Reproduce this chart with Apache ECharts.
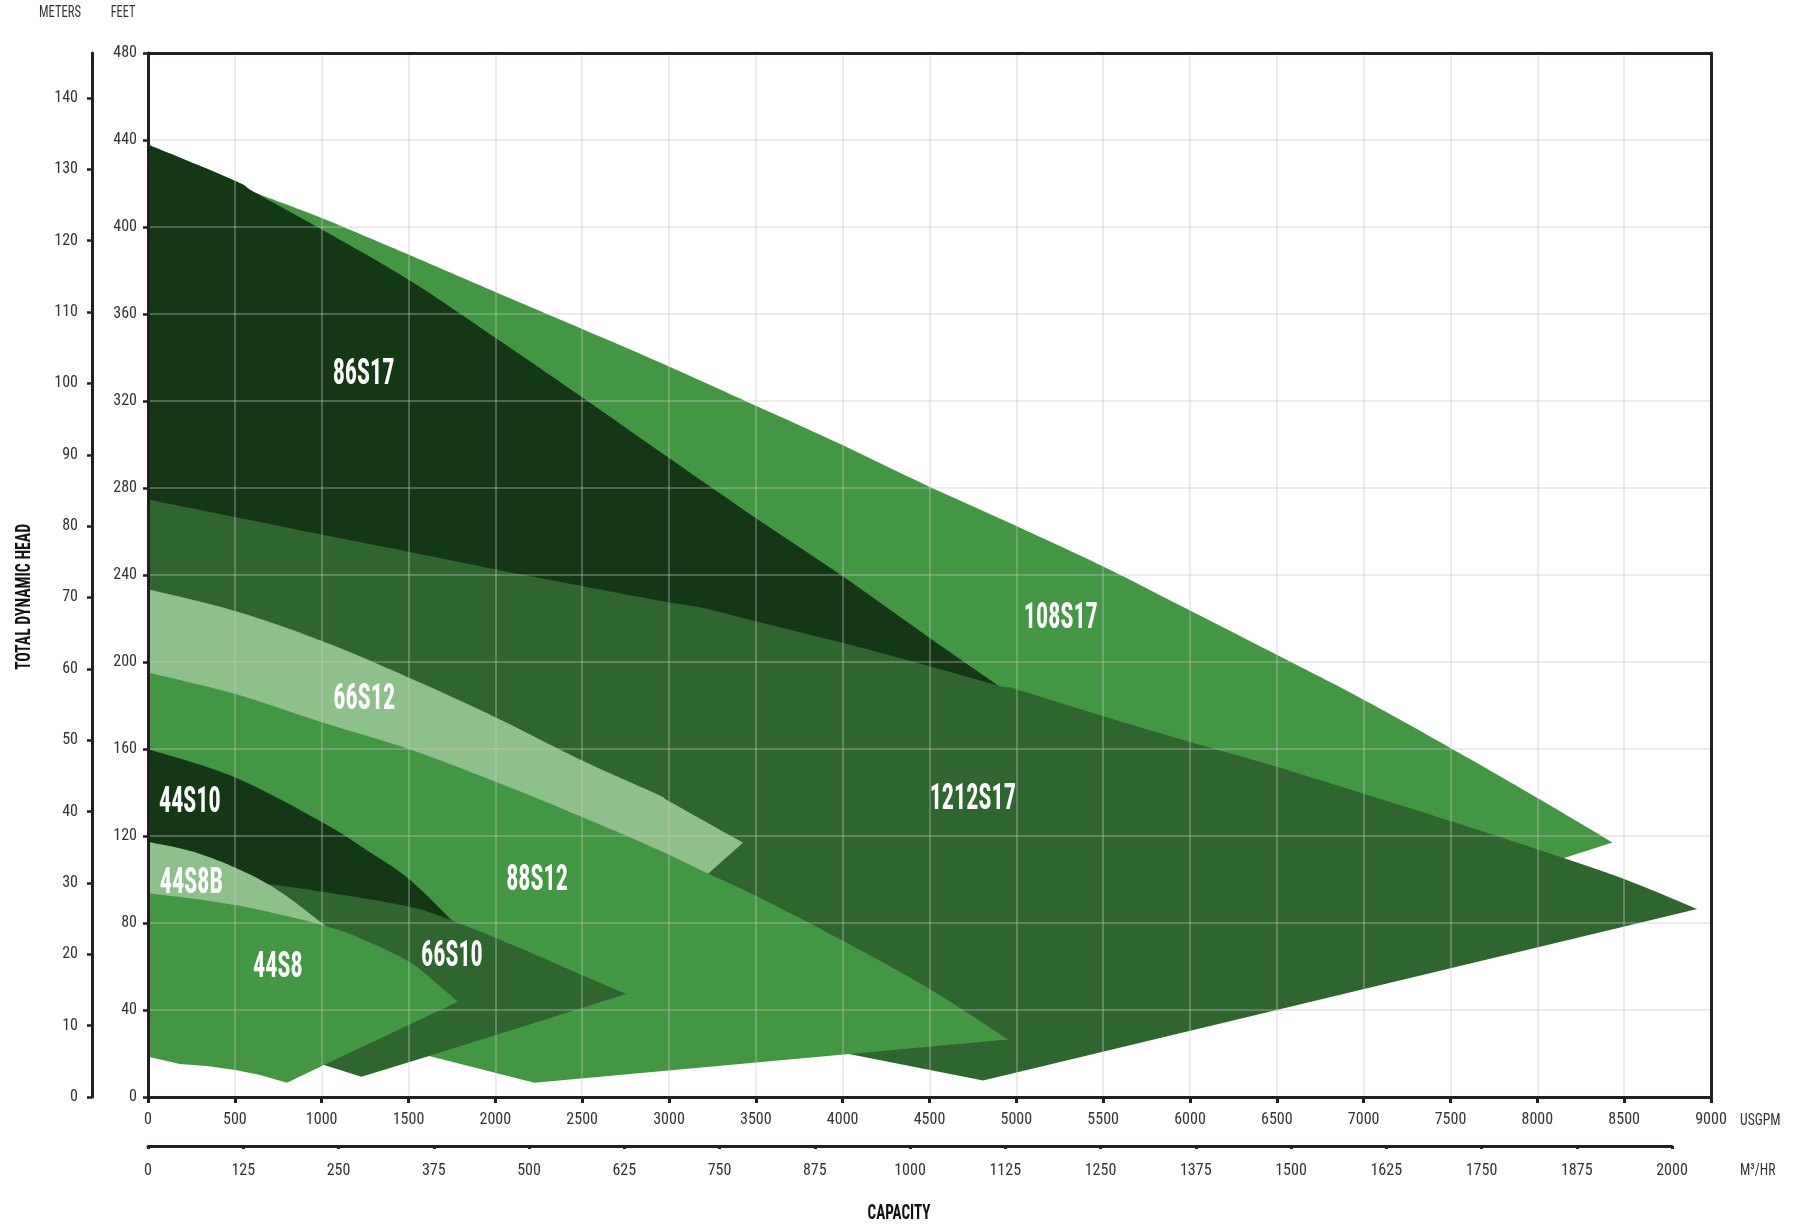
<!DOCTYPE html>
<html>
<head>
<meta charset="utf-8">
<script src="https://cdn.jsdelivr.net/npm/echarts@6/dist/echarts.min.js"></script>
<style>html,body{margin:0;padding:0;background:#fff}#c{width:1801px;height:1228px}</style>
</head>
<body>
<div id="c"></div>
<script>
// ---------- data (USGPM, feet) ----------
const pumpNames = ['108S17', '86S17', '1212S17', '66S12', '88S12', '44S10', '66S10', '44S8B', '44S8'];

const outline108S17 = [[0,437.9],[500,421.3],[612,416],[1001,404.1],[1500,387.3],[2001,370.1],[2500,353.1],[2945,337.8],[3503,317.7],[4002,299.6],[4502,280.5],[5001,262.5],[5500,243.9],[5938,226.2],[6500,203.3],[6999,182.7],[7499,160.5],[7998,137.6],[8433,117],[8150,109.8],[5000,175],[0,265]];
const outline86S17 = [[0,437.9],[500,421.3],[612,416],[1001,398.8],[1500,375.8],[2001,349],[2500,321.7],[2946,296.8],[3503,266],[4002,239.3],[4502,211],[4895,189.2],[5000,180],[0,255]];
const outline1212S17 = [[0,274.7],[500,266.7],[1001,258.6],[1500,250.7],[2000,242.6],[2500,234.9],[2945,228.2],[3196,224.8],[3503,218.6],[4002,208.7],[4502,198],[4895,189.2],[5001,187.4],[5500,175.1],[5938,164.7],[6500,151.8],[6999,139.4],[7499,126.9],[7998,113.9],[8500,100.2],[8921,86.4],[4809,7.6],[4021,20],[0,83]];
const outline66S12 = [[0,233.4],[500,223.5],[1001,209.7],[1500,192.9],[2000,174.6],[2500,154.7],[2945,138.7],[3000,136],[3426,116.9],[3225,102.7],[2500,120],[1500,150],[0,185]];
const outline88S12 = [[0,195.2],[500,185.3],[1001,172.3],[1500,160],[2000,145],[2500,128.7],[2945,113.4],[3225,102.7],[3503,92.4],[4002,71.8],[4502,49.6],[4953,26.4],[2225,6.6],[1619,18.9],[1300,20],[1000,25],[0,40]];
const outline44S10 = [[0,160],[500,147],[1001,126.4],[1250,114],[1500,100.4],[1751,81.1],[1500,86],[1000,91],[500,96],[0,100]];
const outline66S10 = [[0,103],[539,99.3],[1002,94.4],[1504,87.5],[1751,81.1],[2000,73.2],[2258,64.5],[2500,56],[2753,47.4],[1619,18.9],[1229,9.3],[1013,14.7],[0,60]];
const outline44S8B = [[0,117.3],[250,113],[500,105.5],[750,95],[1040,77.5],[800,82],[500,87],[0,92]];
const outline44S8 = [[0,93.7],[500,88.3],[1002,79.1],[1250,72],[1504,62.2],[1650,53],[1784,43.8],[1013,14.7],[800,6.6],[646,10.1],[503,12.4],[337,14.3],[184,15.2],[0,18.5]];

const outlines = [outline108S17, outline86S17, outline1212S17, outline66S12, outline88S12, outline44S10, outline66S10, outline44S8B, outline44S8];
// index of the right-hand tip of each outline (upper edge runs 0..tip)
const tipIndex = [18, 11, 20, 8, 11, 5, 8, 4, 6];

// label anchor values (USGPM, feet)
const labelGpm  = [5256, 1241, 4749, 1245, 2240, 241, 1750, 250, 748];
const labelFeet = [220, 332, 136.6, 182.3, 99.2, 135, 64.5, 98, 59.2];

// tick values
const gpmTicks = [0,500,1000,1500,2000,2500,3000,3500,4000,4500,5000,5500,6000,6500,7000,7500,8000,8500,9000];
const feetTicks = [0,40,80,120,160,200,240,280,320,360,400,440,480];
const meterTicks = [0,10,20,30,40,50,60,70,80,90,100,110,120,130,140];
const m3Ticks = [0,125,250,375,500,625,750,875,1000,1125,1250,1375,1500,1625,1750,1875,2000];

// ---------- styles ----------
const FONT = "'Liberation Sans Narrow','Roboto Condensed','DejaVu Sans Condensed','Liberation Sans',sans-serif";
const DARK = '#143816', MID = '#2f6630', GREEN = '#439642', LIGHT = '#8dc08b';
const pumpColors = [GREEN, DARK, MID, LIGHT, GREEN, DARK, MID, LIGHT, GREEN];
const AX = '#231f20', TXT = '#333333';
const GRIDC = 'rgba(200,200,200,0.45)';

// smooth the upper edge (Catmull-Rom -> cubic Bezier, sampled), straight elsewhere
function smoothOutline(px, tip) {
  const out = [];
  const n = px.length;
  for (let i = 0; i < n; i++) {
    const a = px[i], b = px[(i + 1) % n];
    out.push(a);
    if (i < tip) {
      const prev = i > 0 ? px[i - 1] : a;
      const next = (i + 1 < tip) ? px[i + 2] : b;
      const c1 = [a[0] + (b[0] - prev[0]) / 6, a[1] + (b[1] - prev[1]) / 6];
      const c2 = [b[0] - (next[0] - a[0]) / 6, b[1] - (next[1] - a[1]) / 6];
      for (let k = 1; k < 12; k++) {
        const t = k / 12, u = 1 - t;
        out.push([
          u*u*u*a[0] + 3*u*u*t*c1[0] + 3*u*t*t*c2[0] + t*t*t*b[0],
          u*u*u*a[1] + 3*u*u*t*c1[1] + 3*u*t*t*c2[1] + t*t*t*b[1]
        ]);
      }
    }
  }
  return out;
}

const series = outlines.map((pts, i) => ({
  type: 'custom', name: pumpNames[i], xAxisIndex: 0, yAxisIndex: 0,
  z: 2 + i, silent: true, animation: false,
  data: pts, encode: { x: 0, y: 1 },
  renderItem: function (params, api) {
    if (params.dataIndex !== 0) return null;
    const px = pts.map(p => api.coord(p));
    return { type: 'polygon', shape: { points: smoothOutline(px, tipIndex[i]) }, style: { fill: pumpColors[i] } };
  }
}));

series.push({
  type: 'custom', name: 'labels', xAxisIndex: 0, yAxisIndex: 0, z: 40, silent: true, animation: false,
  data: labelGpm.map((g, i) => [g, labelFeet[i]]), encode: { x: 0, y: 1 },
  renderItem: function (params, api) {
    const p = api.coord([api.value(0), api.value(1)]);
    return { type: 'text', x: p[0], y: p[1], scaleX: 0.67,
      style: { text: pumpNames[params.dataIndex], fill: '#fff', font: 'bold 36px ' + FONT,
        align: 'center', verticalAlign: 'middle', textAlign: 'center', textVerticalAlign: 'middle' } };
  }
});

const lbl = { color: TXT, fontSize: 16, fontFamily: FONT, formatter: v => String(v) };

const option = {
  animation: false,
  backgroundColor: '#fff',
  grid: [
    { left: 148, right: 90, top: 53, height: 1044 },
    { left: 148, right: 129, top: 1145, height: 1 }
  ],
  xAxis: [
    { type: 'value', gridIndex: 0, position: 'bottom', min: 0, max: 9000, interval: 500, z: 20,
      axisLine: { show: true, onZero: false, lineStyle: { color: AX, width: 3 } },
      axisTick: { show: true, length: 6, lineStyle: { color: AX, width: 3 }, customValues: gpmTicks },
      axisLabel: Object.assign({ margin: 15, customValues: gpmTicks }, lbl),
      splitLine: { show: true, lineStyle: { color: GRIDC, width: 1.5 } } },
    { type: 'value', gridIndex: 0, position: 'top', min: 0, max: 9000, z: 20,
      axisLine: { show: true, onZero: false, lineStyle: { color: AX, width: 3 } },
      axisTick: { show: false }, axisLabel: { show: false }, splitLine: { show: false } },
    { type: 'value', gridIndex: 1, position: 'bottom', min: 0, max: 2000, interval: 125, z: 20,
      axisLine: { show: true, onZero: false, lineStyle: { color: AX, width: 3 } },
      axisTick: { show: true, length: 3, lineStyle: { color: AX, width: 3 }, customValues: m3Ticks },
      axisLabel: Object.assign({ margin: 17, customValues: m3Ticks }, lbl),
      splitLine: { show: false } }
  ],
  yAxis: [
    { type: 'value', gridIndex: 0, position: 'left', min: 0, max: 480, interval: 40, z: 20,
      axisLine: { show: true, onZero: false, lineStyle: { color: AX, width: 3 } },
      axisTick: { show: true, length: 5, lineStyle: { color: AX, width: 2.5 }, customValues: feetTicks },
      axisLabel: Object.assign({ margin: 11, customValues: feetTicks }, lbl),
      splitLine: { show: true, lineStyle: { color: GRIDC, width: 1.5 } } },
    { type: 'value', gridIndex: 0, position: 'left', offset: 56, min: 0, max: 480 / 3.28084, interval: 10, z: 20,
      axisLine: { show: true, onZero: false, lineStyle: { color: AX, width: 3 } },
      axisTick: { show: true, length: 5, lineStyle: { color: AX, width: 2.5 }, customValues: meterTicks },
      axisLabel: Object.assign({ margin: 14, customValues: meterTicks }, lbl),
      splitLine: { show: false } },
    { type: 'value', gridIndex: 0, position: 'right', min: 0, max: 480, z: 20,
      axisLine: { show: true, onZero: false, lineStyle: { color: AX, width: 3 } },
      axisTick: { show: false }, axisLabel: { show: false }, splitLine: { show: false } },
    { type: 'value', gridIndex: 1, show: false, min: 0, max: 1 }
  ],
  graphic: [
    { type: 'text', x: 60, y: 13, scaleX: 0.74, style: { text: 'METERS', fill: TXT, font: '17px ' + FONT, align: 'center', verticalAlign: 'middle', textAlign: 'center', textVerticalAlign: 'middle' } },
    { type: 'text', x: 123, y: 13, scaleX: 0.72, style: { text: 'FEET', fill: TXT, font: '17px ' + FONT, align: 'center', verticalAlign: 'middle', textAlign: 'center', textVerticalAlign: 'middle' } },
    { type: 'text', x: 1740, y: 1121, scaleX: 0.8, style: { text: 'USGPM', fill: TXT, font: '17px ' + FONT, align: 'left', verticalAlign: 'middle', textAlign: 'left', textVerticalAlign: 'middle' } },
    { type: 'text', x: 1740, y: 1171, scaleX: 0.8, style: { text: 'M³/HR', fill: TXT, font: '17px ' + FONT, align: 'left', verticalAlign: 'middle', textAlign: 'left', textVerticalAlign: 'middle' } },
    { type: 'text', x: 899, y: 1214, scaleX: 0.72, style: { text: 'CAPACITY', fill: '#111', font: 'bold 21px ' + FONT, align: 'center', verticalAlign: 'middle', textAlign: 'center', textVerticalAlign: 'middle' } },
    { type: 'text', x: 25, y: 597, rotation: Math.PI / 2, scaleX: 0.75, style: { text: 'TOTAL DYNAMIC HEAD', fill: '#111', font: 'bold 21px ' + FONT, align: 'center', verticalAlign: 'middle', textAlign: 'center', textVerticalAlign: 'middle' } }
  ],
  series: series
};

const chart = echarts.init(document.getElementById('c'), null, { renderer: 'canvas' });
chart.setOption(option);
</script>
</body>
</html>
